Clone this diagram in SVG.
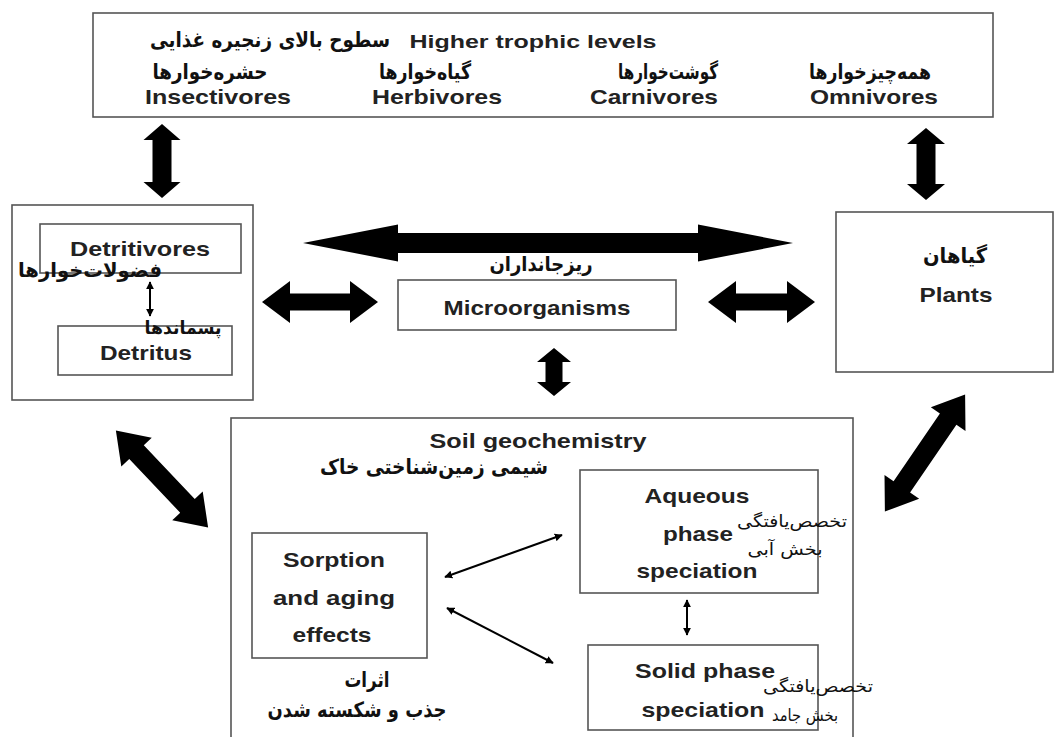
<svg xmlns="http://www.w3.org/2000/svg" width="1056" height="737" viewBox="0 0 1056 737">
<style>
.box{fill:#fff;stroke:#555;stroke-width:1.6}
.en{font-family:"Liberation Sans",Arial,sans-serif;font-weight:bold;font-size:21px;fill:#222;text-anchor:middle}
.fa{font-family:"DejaVu Sans",sans-serif;font-weight:bold;font-size:21px;fill:#111;text-anchor:middle}
.fa2{font-family:"DejaVu Sans",sans-serif;font-size:17px;fill:#111;text-anchor:middle}
.big{fill:#000}
.thin{stroke:#000;stroke-width:2;fill:none;marker-start:url(#ah);marker-end:url(#ah)}
</style>
<defs>
<marker id="ah" viewBox="0 0 10 10" refX="9" refY="5" markerWidth="4" markerHeight="4" orient="auto-start-reverse"><path d="M0,0 L10,5 L0,10 z" fill="#000"/></marker>
</defs>
<rect width="1056" height="737" fill="#fff"/>

<g id="top">
<rect class="box" x="93" y="13" width="900" height="104"/>
<text class="fa" x="270" y="47" textLength="240" lengthAdjust="spacingAndGlyphs">سطوح بالای زنجیره غذایی</text>
<text class="en" x="533" y="48" style="font-size:19px" textLength="247" lengthAdjust="spacingAndGlyphs">Higher trophic levels</text>
<text class="fa" x="210" y="79" textLength="115" lengthAdjust="spacingAndGlyphs">حشره‌خوارها</text>
<text class="fa" x="425" y="79" textLength="92" lengthAdjust="spacingAndGlyphs">گیاه‌خوارها</text>
<text class="fa" x="668" y="79" textLength="100" lengthAdjust="spacingAndGlyphs">گوشت‌خوارها</text>
<text class="fa" x="870" y="79" textLength="122" lengthAdjust="spacingAndGlyphs">همه‌چیزخوارها</text>
<text class="en" x="218" y="104" textLength="146" lengthAdjust="spacingAndGlyphs">Insectivores</text>
<text class="en" x="437" y="104" textLength="130" lengthAdjust="spacingAndGlyphs">Herbivores</text>
<text class="en" x="654" y="104" textLength="128" lengthAdjust="spacingAndGlyphs">Carnivores</text>
<text class="en" x="874" y="104" textLength="128" lengthAdjust="spacingAndGlyphs">Omnivores</text>
</g>

<g id="detritus-group">
<rect class="box" x="12" y="205" width="241" height="195"/>
<rect class="box" x="40" y="224" width="201" height="49"/>
<text class="en" x="140" y="256" textLength="140" lengthAdjust="spacingAndGlyphs">Detritivores</text>
<text class="fa" x="90" y="277" style="font-size:20px" textLength="144" lengthAdjust="spacingAndGlyphs">فضولات‌خوارها</text>
<rect class="box" x="58" y="326" width="174" height="49"/>
<text class="en" x="146" y="360" textLength="92" lengthAdjust="spacingAndGlyphs">Detritus</text>
<text class="fa" x="183" y="334" style="font-size:18px" textLength="77" lengthAdjust="spacingAndGlyphs">پسماندها</text>
</g>

<g id="micro">
<rect class="box" x="398" y="280" width="278" height="50"/>
<text class="en" x="537" y="315" textLength="187" lengthAdjust="spacingAndGlyphs">Microorganisms</text>
<text class="fa" x="541" y="271" style="font-size:20px" textLength="103" lengthAdjust="spacingAndGlyphs">ریزجانداران</text>
</g>

<g id="plants">
<rect class="box" x="836" y="212" width="217" height="160"/>
<text class="fa" x="955" y="263" textLength="64" lengthAdjust="spacingAndGlyphs">گیاهان</text>
<text class="en" x="956" y="302" textLength="73" lengthAdjust="spacingAndGlyphs">Plants</text>
</g>

<g id="soil">
<rect class="box" x="231" y="418" width="622" height="330"/>
<text class="en" x="538" y="448" textLength="217" lengthAdjust="spacingAndGlyphs">Soil geochemistry</text>
<text class="fa" x="434" y="474" textLength="228" lengthAdjust="spacingAndGlyphs">شیمی زمین‌شناختی خاک</text>
</g>

<g id="aqueous">
<rect class="box" x="580" y="470" width="238" height="123"/>
<text class="en" x="697" y="503" textLength="105" lengthAdjust="spacingAndGlyphs">Aqueous</text>
<text class="en" x="698" y="541" textLength="70" lengthAdjust="spacingAndGlyphs">phase</text>
<text class="en" x="697" y="578" textLength="121" lengthAdjust="spacingAndGlyphs">speciation</text>
<text class="fa2" x="792" y="527" textLength="110" lengthAdjust="spacingAndGlyphs">تخصص‌یافتگی</text>
<text class="fa2" x="785" y="555" textLength="75" lengthAdjust="spacingAndGlyphs">بخش آبی</text>
</g>

<g id="solid">
<rect class="box" x="588" y="645" width="230" height="85"/>
<text class="en" x="705" y="678" textLength="140" lengthAdjust="spacingAndGlyphs">Solid phase</text>
<text class="en" x="703" y="717" textLength="123" lengthAdjust="spacingAndGlyphs">speciation</text>
<text class="fa2" x="818" y="692" textLength="110" lengthAdjust="spacingAndGlyphs">تخصص‌یافتگی</text>
<text class="fa2" x="805" y="721" textLength="66" lengthAdjust="spacingAndGlyphs">بخش جامد</text>
</g>

<g id="sorption">
<rect class="box" x="252" y="533" width="175" height="125"/>
<text class="en" x="334" y="567" textLength="102" lengthAdjust="spacingAndGlyphs">Sorption</text>
<text class="en" x="334" y="605" textLength="122" lengthAdjust="spacingAndGlyphs">and aging</text>
<text class="en" x="332" y="642" textLength="79" lengthAdjust="spacingAndGlyphs">effects</text>
<text class="fa" x="367" y="687" textLength="45" lengthAdjust="spacingAndGlyphs">اثرات</text>
<text class="fa" x="357" y="717" textLength="179" lengthAdjust="spacingAndGlyphs">جذب و شکسته شدن</text>
</g>

<g id="connectors">
<polygon class="big" transform="translate(162,161) rotate(90)" points="-37,0 -21,-18.5 -21,-9.5 21,-9.5 21,-18.5 37,0 21,18.5 21,9.5 -21,9.5 -21,18.5"/>
<polygon class="big" transform="translate(926,164) rotate(90)" points="-36,0 -20,-19 -20,-9.5 20,-9.5 20,-19 36,0 20,19 20,9.5 -20,9.5 -20,19"/>
<polygon class="big" transform="translate(554,372) rotate(90)" points="-24,0 -10,-17 -10,-8.5 10,-8.5 10,-17 24,0 10,17 10,8.5 -10,8.5 -10,17"/>
<polygon class="big" transform="translate(320,302)" points="-58,0 -30,-21 -30,-8.5 30,-8.5 30,-21 58,0 30,21 30,8.5 -30,8.5 -30,21"/>
<polygon class="big" transform="translate(761.5,302)" points="-53.5,0 -25.5,-21 -25.5,-8.5 25.5,-8.5 25.5,-21 53.5,0 25.5,21 25.5,8.5 -25.5,8.5 -25.5,21"/>
<polygon class="big" transform="translate(548,243)" points="-245,0 -150,-18.5 -150,-10 150,-10 150,-18.5 245,0 150,18.5 150,10 -150,10 -150,18.5"/>
<polygon class="big" transform="translate(162,479) rotate(46.5)" points="-67,0 -37,-21 -37,-10 37,-10 37,-21 67,0 37,21 37,10 -37,10 -37,21"/>
<polygon class="big" transform="translate(925,453) rotate(-55.6)" points="-71,0 -41,-21 -41,-10 41,-10 41,-21 71,0 41,21 41,10 -41,10 -41,21"/>
<line class="thin" x1="150" y1="282" x2="150" y2="316"/>
<line class="thin" x1="687" y1="600" x2="687" y2="635"/>
<line class="thin" x1="445" y1="577" x2="562" y2="535"/>
<line class="thin" x1="447" y1="608" x2="553" y2="663"/>
</g>
</svg>
